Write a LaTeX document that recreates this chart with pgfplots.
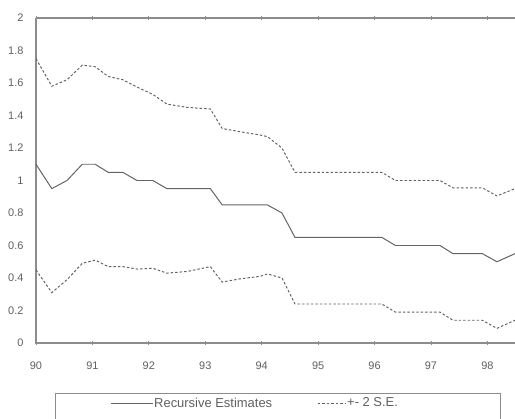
\documentclass[border=0pt]{standalone}
\usepackage{fontspec}
\setmainfont{Liberation Sans}
\usepackage{pgfplots}
\pgfplotsset{compat=1.18}
\usepackage{pgfplotstable}
\definecolor{lineg}{RGB}{100,100,100}
\definecolor{axg}{RGB}{140,140,140}
\definecolor{txtg}{RGB}{95,95,95}
\pgfplotsset{
  legsolid/.style={legend image code/.code={\draw[##1] (0bp,0bp) -- (42bp,0bp);}},
  legdash/.style={legend image code/.code={\draw[##1] (0bp,0bp) -- (28bp,0bp);}},
}
\pgfplotstableread{
x      est   up     lo
90.00  1.10  1.75   0.45
90.28  0.95  1.58   0.31
90.55  1.00  1.62   0.39
90.82  1.10  1.71   0.49
91.05  1.10  1.70   0.51
91.28  1.05  1.64   0.47
91.54  1.05  1.62   0.47
91.79  1.00  1.575  0.455
92.07  1.00  1.53   0.46
92.32  0.95  1.47   0.43
92.68  0.95  1.45   0.44
93.09  0.95  1.44   0.47
93.30  0.85  1.32   0.375
93.62  0.85  1.30   0.395
93.97  0.85  1.28   0.41
94.10  0.85  1.27   0.425
94.36  0.80  1.20   0.40
94.59  0.65  1.05   0.24
96.13  0.65  1.05   0.24
96.37  0.60  1.00   0.19
97.16  0.60  1.00   0.19
97.39  0.55  0.955  0.14
97.91  0.55  0.955  0.14
98.17  0.50  0.905  0.09
98.49  0.55  0.95   0.14
}\datatab
\begin{document}
\begin{tikzpicture}[x=1bp,y=1bp]
\begin{axis}[
  at={(36bp,76bp)}, anchor=south west,
  scale only axis, width=479bp, height=325bp,
  xmin=90, xmax=98.49, ymin=0, ymax=2,
  xtick={90,...,98}, xticklabels={90,91,92,93,94,95,96,97,98},
  ytick={0,0.2,...,2.01},
  yticklabels={0,0.2,0.4,0.6,0.8,1,1.2,1.4,1.6,1.8,2},
  axis line style={draw=none},
  tick align=center, major tick length=4bp,
  xtick style={axg, line width=0.8pt},
  ytick style={draw=none},
  tick label style={font=\fontsize{11}{13}\selectfont, text=txtg},
  xticklabel style={yshift=-13bp},
  yticklabel style={xshift=-7bp},
  /pgf/number format/assume math mode=true,
  clip=false,
  legend columns=2,
  legend style={draw=none, fill=none, inner sep=0pt, at={(rel axis cs:0.1545,-0.185)}, anchor=west,
    font=\fontsize{13}{15}\selectfont, text=txtg,
    nodes={inner xsep=1bp},
    /tikz/every even column/.append style={column sep=44bp}},
]
\draw[axg, line width=1.6pt] (rel axis cs:0,1) -- (rel axis cs:0,0) -- (rel axis cs:1,0);
\draw[axg, line width=1.6pt] (rel axis cs:0,1) -- (rel axis cs:1,1);
\addplot[lineg, line width=1pt, legsolid] table[x=x,y=est] {\datatab};
\addlegendentry{Recursive Estimates}
\addplot[lineg, line width=1pt, dash pattern=on 2.5pt off 2pt, legdash] table[x=x,y=up] {\datatab};
\addlegendentry{+- 2 S.E.}
\addplot[lineg, line width=1pt, dash pattern=on 2.5pt off 2pt, forget plot] table[x=x,y=lo] {\datatab};
\end{axis}
\draw[axg, line width=1pt] (55bp,-10bp) rectangle (500bp,26bp);
\pgfresetboundingbox
\useasboundingbox (0,0) rectangle (515bp,419bp);
\end{tikzpicture}
\end{document}
